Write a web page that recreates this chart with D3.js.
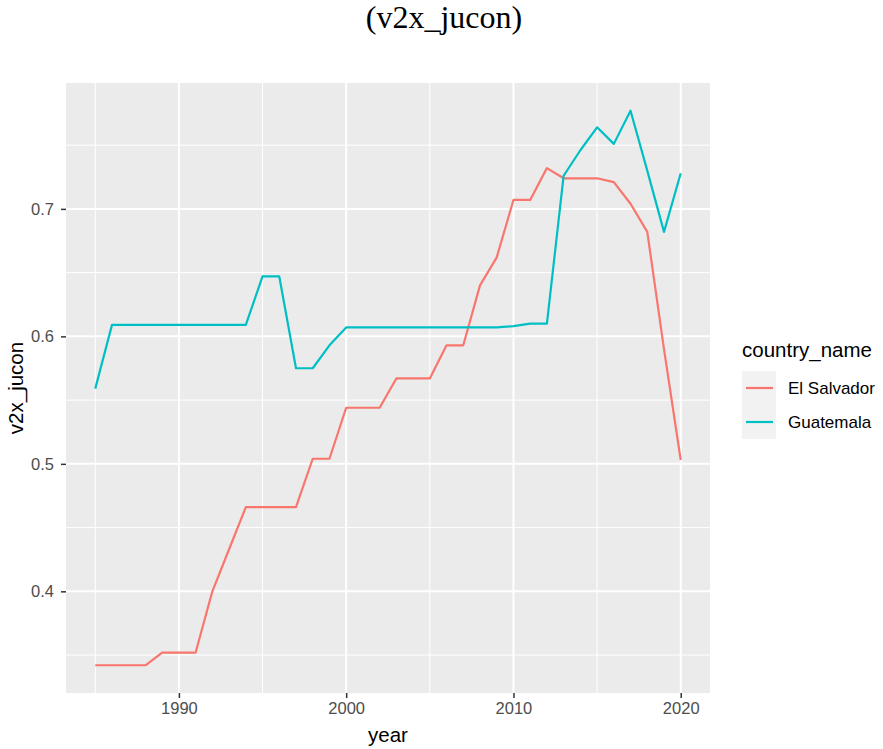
<!DOCTYPE html>
<html>
<head>
<meta charset="utf-8">
<script src="https://cdn.jsdelivr.net/npm/d3@7"></script>
<style>
  html, body { margin: 0; padding: 0; background: #ffffff; }
  svg { display: block; }
</style>
</head>
<body>
<script>
// Judicial constraints on the executive, V-Dem indicator v2x_jucon
const years = d3.range(1985, 2021);
const countries = ["El Salvador", "Guatemala"];
const elSalvador = [
  0.342, 0.342, 0.342, 0.342, 0.352, 0.352, 0.352, 0.400, 0.433, 0.466,
  0.466, 0.466, 0.466, 0.504, 0.504, 0.544, 0.544, 0.544, 0.567, 0.567,
  0.567, 0.593, 0.593, 0.640, 0.662, 0.707, 0.707, 0.732, 0.724, 0.724,
  0.724, 0.721, 0.704, 0.682, 0.590, 0.503
];
const guatemala = [
  0.559, 0.609, 0.609, 0.609, 0.609, 0.609, 0.609, 0.609, 0.609, 0.609,
  0.647, 0.647, 0.575, 0.575, 0.593, 0.607, 0.607, 0.607, 0.607, 0.607,
  0.607, 0.607, 0.607, 0.607, 0.607, 0.608, 0.610, 0.610, 0.726, 0.746,
  0.764, 0.751, 0.777, 0.730, 0.682, 0.728
];
const xTicks = [1990, 2000, 2010, 2020];
const yTicks = [0.4, 0.5, 0.6, 0.7];
const xMinor = [1985, 1995, 2005, 2015];
const yMinor = [0.35, 0.45, 0.55, 0.65, 0.75];
const colors = ["#F8766D", "#00BFC4"];

const series = [elSalvador, guatemala].map((vals, i) => ({
  name: countries[i],
  color: colors[i],
  points: years.map((y, j) => ({ year: y, value: vals[j] }))
}));

const W = 883, H = 749;
const panel = { left: 66, right: 710, top: 83, bottom: 693 };
const sans = "'Liberation Sans', Arial, Helvetica, sans-serif";

const svg = d3.select("body").append("svg")
  .attr("width", W).attr("height", H);

// ggplot-style 5% expansion of both continuous scales
const xExt = d3.extent(years);
const xPad = (xExt[1] - xExt[0]) * 0.05;
const x = d3.scaleLinear()
  .domain([xExt[0] - xPad, xExt[1] + xPad])
  .range([panel.left, panel.right]);

const allVals = elSalvador.concat(guatemala);
const yExt = d3.extent(allVals);
const yPad = (yExt[1] - yExt[0]) * 0.05;
const y = d3.scaleLinear()
  .domain([yExt[0] - yPad, yExt[1] + yPad])
  .range([panel.bottom, panel.top]);

// Title
svg.append("text")
  .attr("x", 444).attr("y", 28)
  .attr("text-anchor", "middle")
  .style("font-family", "'Liberation Serif', 'Times New Roman', serif")
  .style("font-size", "32px")
  .attr("fill", "#000")
  .text("(v2x_jucon)");

// Panel background
svg.append("rect")
  .attr("x", panel.left).attr("y", panel.top)
  .attr("width", panel.right - panel.left)
  .attr("height", panel.bottom - panel.top)
  .attr("fill", "#EBEBEB");

const grid = svg.append("g");
// minor grid
grid.selectAll("line.xminor").data(xMinor).enter().append("line")
  .attr("x1", d => x(d)).attr("x2", d => x(d))
  .attr("y1", panel.top).attr("y2", panel.bottom)
  .attr("stroke", "#fff").attr("stroke-width", 1);
grid.selectAll("line.yminor").data(yMinor).enter().append("line")
  .attr("y1", d => y(d)).attr("y2", d => y(d))
  .attr("x1", panel.left).attr("x2", panel.right)
  .attr("stroke", "#fff").attr("stroke-width", 1);
// major grid
grid.selectAll("line.xmajor").data(xTicks).enter().append("line")
  .attr("x1", d => x(d)).attr("x2", d => x(d))
  .attr("y1", panel.top).attr("y2", panel.bottom)
  .attr("stroke", "#fff").attr("stroke-width", 2);
grid.selectAll("line.ymajor").data(yTicks).enter().append("line")
  .attr("y1", d => y(d)).attr("y2", d => y(d))
  .attr("x1", panel.left).attr("x2", panel.right)
  .attr("stroke", "#fff").attr("stroke-width", 2);

// Axes
const xAxis = svg.append("g")
  .attr("transform", `translate(0,${panel.bottom})`)
  .call(d3.axisBottom(x).tickValues(xTicks).tickFormat(d3.format("d"))
    .tickSize(5).tickPadding(4));
const yAxis = svg.append("g")
  .attr("transform", `translate(${panel.left},0)`)
  .call(d3.axisLeft(y).tickValues(yTicks).tickFormat(d3.format(".1f"))
    .tickSize(5).tickPadding(7));
[xAxis, yAxis].forEach(ax => {
  ax.select(".domain").remove();
  ax.selectAll(".tick line").attr("stroke", "#333333").attr("stroke-width", 1.5);
  ax.selectAll(".tick text")
    .attr("fill", "#4D4D4D")
    .style("font-family", sans)
    .style("font-size", "16.5px");
});

// Axis titles
svg.append("text")
  .attr("x", (panel.left + panel.right) / 2).attr("y", 742)
  .attr("text-anchor", "middle")
  .style("font-family", sans).style("font-size", "20.5px")
  .attr("fill", "#000")
  .text("year");
svg.append("text")
  .attr("transform", `translate(23,${(panel.top + panel.bottom) / 2}) rotate(-90)`)
  .attr("text-anchor", "middle")
  .style("font-family", sans).style("font-size", "20.5px")
  .attr("fill", "#000")
  .text("v2x_jucon");

// Lines
const line = d3.line().x(d => x(d.year)).y(d => y(d.value));
svg.append("g").selectAll("path").data(series).enter().append("path")
  .attr("d", d => line(d.points))
  .attr("fill", "none")
  .attr("stroke", d => d.color)
  .attr("stroke-width", 2.2)
  .attr("stroke-linejoin", "round");

// Legend
const legend = svg.append("g").attr("transform", "translate(742,0)");
legend.append("text")
  .attr("x", 0).attr("y", 357)
  .style("font-family", sans).style("font-size", "20.5px")
  .attr("fill", "#000")
  .text("country_name");
const keySize = 34;
const items = legend.selectAll("g.item").data(series).enter().append("g")
  .attr("transform", (d, i) => `translate(0,${371 + i * keySize})`);
items.append("rect")
  .attr("width", keySize).attr("height", keySize)
  .attr("fill", "#F2F2F2");
items.append("line")
  .attr("x1", 4).attr("x2", keySize - 3)
  .attr("y1", keySize / 2).attr("y2", keySize / 2)
  .attr("stroke", d => d.color).attr("stroke-width", 2.2);
items.append("text")
  .attr("x", keySize + 12).attr("y", keySize / 2)
  .attr("dy", "0.35em")
  .style("font-family", sans).style("font-size", "17px")
  .attr("fill", "#000")
  .text(d => d.name);
</script>
</body>
</html>
